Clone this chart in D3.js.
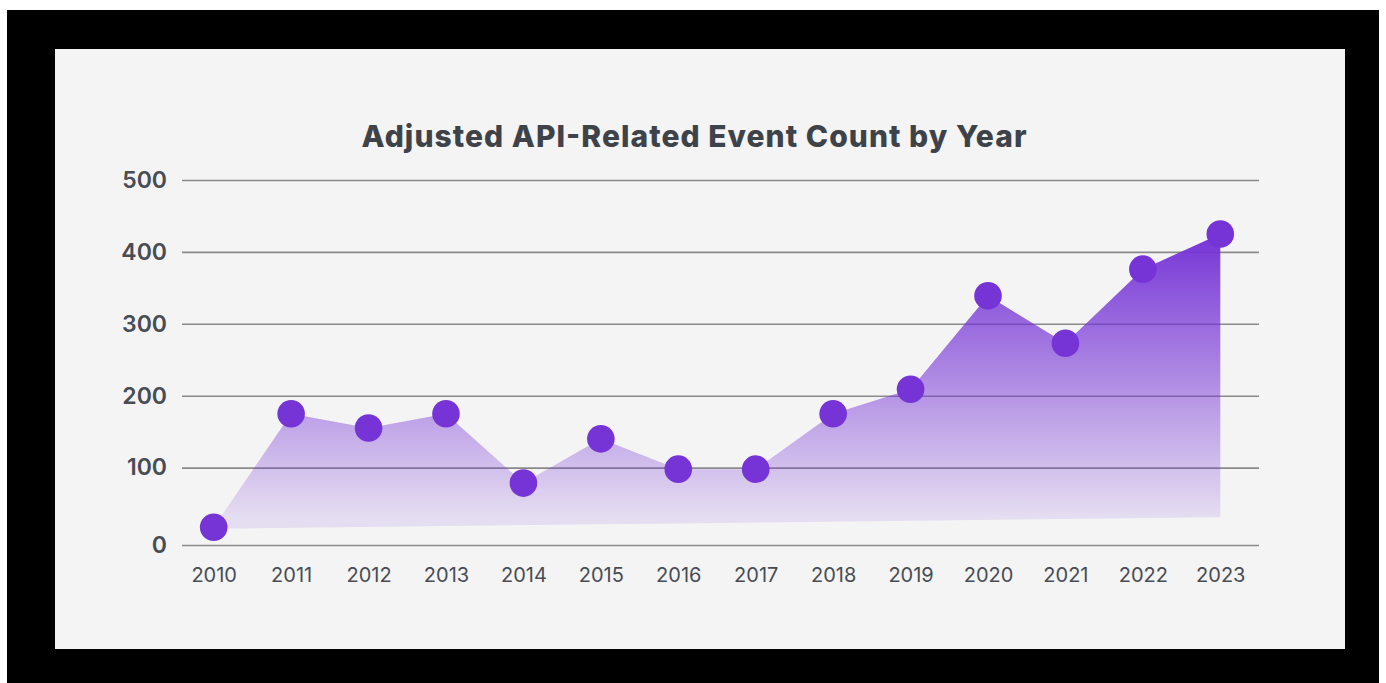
<!DOCTYPE html>
<html>
<head>
<meta charset="utf-8">
<script src="https://cdn.jsdelivr.net/npm/d3@7"></script>
<style>
  html, body { margin: 0; padding: 0; background: #ffffff; }
  svg { display: block; }
</style>
</head>
<body>
<svg id="chart" width="1386" height="683"></svg>
<script>
// ---- data ----
const years = [2010, 2011, 2012, 2013, 2014, 2015, 2016, 2017, 2018, 2019, 2020, 2021, 2022, 2023];
const counts = [23, 175, 155, 175, 80, 140, 98, 98, 175, 209, 339, 273, 376, 425];
const yTicks = [0, 100, 200, 300, 400, 500];
const baselineStart = 21;   // lower edge of the shaded area at the first year
const baselineEnd = 36;     // lower edge of the shaded area at the last year
const title = "Adjusted API-Related Event Count by Year";

// ---- layout ----
const svg = d3.select("#chart");
svg.append("rect").attr("x", 7).attr("y", 10).attr("width", 1372).attr("height", 673).attr("fill", "#000");
svg.append("rect").attr("x", 55).attr("y", 49).attr("width", 1290).attr("height", 600).attr("fill", "#f4f4f4");

const x = d3.scalePoint().domain(years).range([213.7, 1220.3]);
const y = d3.scaleLinear().domain([0, 100, 500]).range([545, 467.6, 180]);
const gridLeft = 182, gridRight = 1259;

// title
const titleText = svg.append("text")
  .attr("x", 694).attr("y", 147)
  .attr("text-anchor", "middle")
  .attr("font-family", "Inter, 'Open Sans', sans-serif")
  .attr("font-weight", 800)
  .attr("font-size", 30)
  .attr("fill", "#3e4249")
  .text(title);
// fit title to the reference width
const tw = titleText.node().getComputedTextLength();
titleText.attr("textLength", 665).attr("lengthAdjust", "spacing");

// gridlines + y labels via axis
const yAxis = d3.axisLeft(y).tickValues(yTicks).tickSize(-(gridRight - gridLeft)).tickPadding(15).tickFormat(d3.format("d"));
const gy = svg.append("g").attr("transform", `translate(${gridLeft},0)`).call(yAxis);
gy.select(".domain").remove();
gy.selectAll(".tick line").attr("stroke", "#8a8a8a").attr("stroke-width", 1.6);
gy.selectAll(".tick text")
  .attr("font-family", "Inter, 'Open Sans', sans-serif")
  .attr("font-weight", 600)
  .attr("font-size", 23)
  .attr("fill", "#484c54");

// x labels via axis
const xAxis = d3.axisBottom(x).tickSize(0).tickPadding(0).tickFormat(d3.format("d"));
const gx = svg.append("g").attr("transform", `translate(0,${y(0) + 37})`).call(xAxis);
gx.select(".domain").remove();
gx.selectAll(".tick text")
  .attr("dy", "0")
  .attr("font-family", "Inter, 'Open Sans', sans-serif")
  .attr("font-weight", 400)
  .attr("font-size", 20)
  .attr("fill", "#484c54");

// gradient
const defs = svg.append("defs");
const grad = defs.append("linearGradient")
  .attr("id", "areaGrad")
  .attr("gradientUnits", "userSpaceOnUse")
  .attr("x1", 0).attr("x2", 0)
  .attr("y1", y(d3.max(counts))).attr("y2", y(baselineEnd));
grad.append("stop").attr("offset", 0).attr("stop-color", "#7634d6").attr("stop-opacity", 1);
grad.append("stop").attr("offset", 1).attr("stop-color", "#7634d6").attr("stop-opacity", 0.12);

// area polygon: data line, then down to sloped baseline
const pts = years.map((yr, i) => ({ year: yr, v: counts[i] }));
const poly = pts.concat([
  { year: years[years.length - 1], v: baselineEnd },
  { year: years[0], v: baselineStart }
]);
const lineGen = d3.line().x(d => x(d.year)).y(d => y(d.v));
svg.append("path")
  .attr("d", lineGen(poly) + "Z")
  .attr("fill", "url(#areaGrad)");

// points
svg.append("g").selectAll("circle")
  .data(pts)
  .join("circle")
  .attr("cx", d => x(d.year))
  .attr("cy", d => y(d.v))
  .attr("r", 13.8)
  .attr("fill", "#7634d6");
</script>
</body>
</html>
